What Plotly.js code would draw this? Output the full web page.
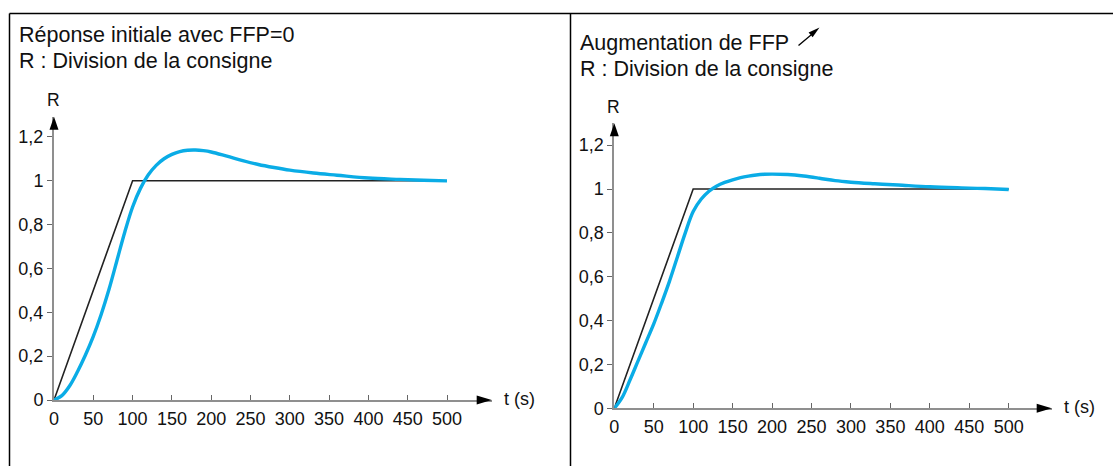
<!DOCTYPE html>
<html>
<head>
<meta charset="utf-8">
<script src="https://cdn.plot.ly/plotly-3.0.1.min.js"></script>
<style>html,body{margin:0;padding:0;background:#fff;}#chart{width:1113px;height:466px;}</style>
</head>
<body>
<div id="chart"></div>
<script>
// ---- data ----
const refT = [0, 100, 500];
const refR = [0, 1, 1];

const leftT = [0,10,20,30,40,50,60,70,80,90,100,110,120,130,140,150,160,170,180,190,200,220,240,260,280,300,330,360,400,440,470,500];
const leftR = [0,0.02,0.065,0.13,0.205,0.29,0.39,0.505,0.635,0.765,0.88,0.965,1.027,1.07,1.1,1.12,1.133,1.139,1.14,1.137,1.131,1.112,1.092,1.074,1.06,1.048,1.035,1.025,1.012,1.006,1.002,0.999];

const rightT = [0,10,20,30,40,50,60,70,80,90,100,110,120,130,140,150,160,170,180,190,200,220,240,260,280,300,330,360,400,440,470,500];
const rightR = [0,0.05,0.13,0.215,0.3,0.385,0.48,0.58,0.69,0.8,0.897,0.953,0.99,1.014,1.03,1.042,1.052,1.059,1.064,1.067,1.068,1.066,1.059,1.049,1.038,1.031,1.024,1.018,1.01,1.005,1.002,0.998];

const xTickVals = [0,50,100,150,200,250,300,350,400,450,500];
const xTickText = ['0','50','100','150','200','250','300','350','400','450','500'];
const yTickVals = [0,0.2,0.4,0.6,0.8,1,1.2];
const yTickText = ['0','0,2','0,4','0,6','0,8','1','1,2'];

const leftTitle1 = 'Réponse initiale avec FFP=0';
const leftTitle2 = 'R : Division de la consigne';
const rightTitle1 = 'Augmentation de FFP';
const rightTitle2 = 'R : Division de la consigne';
const yLabel = 'R';
const xLabel = 't (s)';

// ---- layout helpers (pixels -> paper) ----
const W = 1113, H = 466;
const P = x => x / W;
const Q = y => 1 - y / H;

const FONT = 'Liberation Sans, Arial, sans-serif';
const BLUE = '#0aace6';
const AXC = '#8f8f8f';

// panel geometry in pixels
const L = {x0: 54, x500: 447, xTip: 491.7, y0: 400, y1: 180.7, yTip: 116.7};
const R = {x0: 614.3, x500: 1008.7, xTip: 1051.7, y0: 408.3, y1: 189, yTip: 123.3};

function axes(g) {
  const xr = 500 * (g.xTip - g.x0) / (g.x500 - g.x0);
  const yr = (g.y0 - g.yTip) / (g.y0 - g.y1);
  const common = {showgrid: false, zeroline: false, showline: true, linecolor: AXC, linewidth: 2,
    tickcolor: '#666', tickwidth: 1, ticklen: 5, tickfont: {family: FONT, size: 18, color: '#111'}, fixedrange: true};
  return {
    x: Object.assign({}, common, {domain: [P(g.x0), P(g.xTip)], range: [0, xr], ticks: 'inside',
      tickmode: 'array', tickvals: xTickVals, ticktext: xTickText, ticklabelstandoff: 1}),
    y: Object.assign({}, common, {domain: [Q(g.y0), Q(g.yTip)], range: [0, yr], ticks: 'outside',
      tickmode: 'array', tickvals: yTickVals, ticktext: yTickText, ticklabelstandoff: 0})
  };
}
const aL = axes(L), aR = axes(R);
aR.x.anchor = 'y2'; aR.y.anchor = 'x2';
aL.x.anchor = 'y'; aL.y.anchor = 'x';

function tri(tip, b1, b2) {
  return 'M' + P(tip[0]) + ',' + Q(tip[1]) + ' L' + P(b1[0]) + ',' + Q(b1[1]) + ' L' + P(b2[0]) + ',' + Q(b2[1]) + ' Z';
}
function arrowsFor(g) {
  return [
    {type: 'path', xref: 'paper', yref: 'paper', path: tri([g.xTip, g.y0], [g.xTip - 15, g.y0 - 4.5], [g.xTip - 15, g.y0 + 4.5]), fillcolor: '#000', line: {width: 0}},
    {type: 'path', xref: 'paper', yref: 'paper', path: tri([g.x0, g.yTip], [g.x0 - 4.5, g.yTip + 13], [g.x0 + 4.5, g.yTip + 13]), fillcolor: '#000', line: {width: 0}}
  ];
}
function lineShape(x0, y0, x1, y1, w) {
  return {type: 'line', xref: 'paper', yref: 'paper', x0: P(x0), y0: Q(y0), x1: P(x1), y1: Q(y1), line: {color: '#000', width: w}};
}

const shapes = [].concat(
  arrowsFor(L), arrowsFor(R),
  [lineShape(9.5, 13.5, 1113, 13.5, 1.5), lineShape(9.5, 13.5, 9.5, 466, 1.5), lineShape(570.5, 13.5, 570.5, 466, 1.5)],
  // small arrow after "Augmentation de FFP"
  [lineShape(798.5, 45.5, 811, 35, 1.3),
   {type: 'path', xref: 'paper', yref: 'paper', path: tri([819.5, 27.5], [812.6, 37.2], [808.6, 32.4]), fillcolor: '#000', line: {width: 0}}]
);

function txt(s, x, y, size, xanchor) {
  return {text: s, xref: 'paper', yref: 'paper', x: P(x), y: Q(y), xanchor: xanchor || 'left', yanchor: 'middle',
    showarrow: false, font: {family: FONT, size: size, color: '#111'}};
}
const annotations = [
  txt(leftTitle1, 17, 34.5, 21.5), txt(leftTitle2, 17, 61, 21.5),
  txt(rightTitle1, 578, 42.5, 21.5), txt(rightTitle2, 578, 69.5, 21.5),
  txt(yLabel, L.x0 - 1, 99.5, 17.5, 'center'), txt(yLabel, R.x0 - 1, 107, 17.5, 'center'),
  txt(xLabel, 502, 399, 18), txt(xLabel, 1062, 407, 18)
];

const traces = [
  {x: refT, y: refR, xaxis: 'x', yaxis: 'y', mode: 'lines', line: {color: '#222', width: 1.6}, hoverinfo: 'skip'},
  {x: leftT, y: leftR, xaxis: 'x', yaxis: 'y', mode: 'lines', line: {color: BLUE, width: 3.4, shape: 'spline', smoothing: 1}, hoverinfo: 'skip'},
  {x: refT, y: refR, xaxis: 'x2', yaxis: 'y2', mode: 'lines', line: {color: '#222', width: 1.6}, hoverinfo: 'skip'},
  {x: rightT, y: rightR, xaxis: 'x2', yaxis: 'y2', mode: 'lines', line: {color: BLUE, width: 3.4, shape: 'spline', smoothing: 1}, hoverinfo: 'skip'}
];

const layout = {
  width: W, height: H, margin: {l: 0, r: 0, t: 0, b: 0}, paper_bgcolor: '#fff', plot_bgcolor: 'rgba(0,0,0,0)',
  showlegend: false, font: {family: FONT},
  xaxis: aL.x, yaxis: aL.y, xaxis2: aR.x, yaxis2: aR.y,
  shapes: shapes, annotations: annotations
};

Plotly.newPlot('chart', traces, layout, {staticPlot: true, displayModeBar: false});
</script>
</body>
</html>
